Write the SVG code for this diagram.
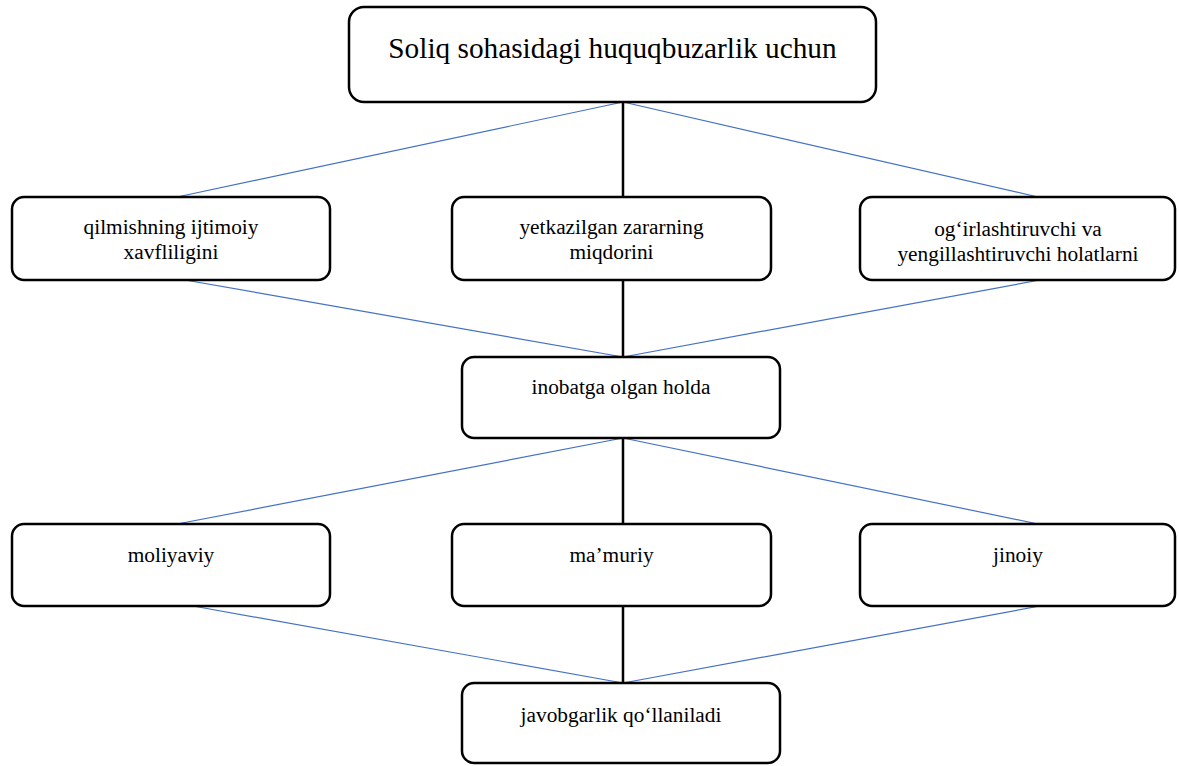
<svg xmlns="http://www.w3.org/2000/svg" width="1179" height="766" viewBox="0 0 1179 766">
<style>
.box{fill:#fff;stroke:#000;stroke-width:2.5}
.t{font-family:'Liberation Serif','Tinos','DejaVu Serif','Times New Roman',serif;font-size:21.33px;fill:#000;text-anchor:middle}
.big{font-size:29.3px}
.b{stroke:#4472C4;stroke-width:1.2;fill:none}
.k{stroke:#000;stroke-width:2.5;fill:none}
</style>
<rect width="1179" height="766" fill="#fff"/>
<g id="connectors">
<line class="b" x1="623" y1="102" x2="177" y2="197"/>
<line class="b" x1="623" y1="102" x2="1038" y2="197"/>
<line class="k" x1="623" y1="102" x2="623" y2="197"/>
<line class="b" x1="185" y1="280" x2="623" y2="357"/>
<line class="b" x1="1040" y1="280" x2="623" y2="357"/>
<line class="k" x1="623" y1="280" x2="623" y2="357"/>
<line class="b" x1="623" y1="438" x2="177" y2="524"/>
<line class="b" x1="623" y1="438" x2="1038" y2="524"/>
<line class="k" x1="623" y1="438" x2="623" y2="524"/>
<line class="b" x1="193" y1="606" x2="623" y2="683"/>
<line class="b" x1="1040" y1="606" x2="623" y2="683"/>
<line class="k" x1="623" y1="606" x2="623" y2="683"/>
</g>
<g id="top">
<rect class="box" x="349" y="7" width="527" height="95" rx="15"/>
<text class="t big" x="612.5" y="58" font-family="Liberation Serif, serif">Soliq sohasidagi huquqbuzarlik uchun</text>
</g>
<g id="n1">
<rect class="box" x="12" y="197" width="318" height="83" rx="12"/>
<text class="t" x="171" y="234">qilmishning ijtimoiy</text>
<text class="t" x="171" y="259">xavfliligini</text>
</g>
<g id="n2">
<rect class="box" x="452" y="197" width="319" height="83" rx="12"/>
<text class="t" x="611.5" y="234">yetkazilgan zararning</text>
<text class="t" x="611.5" y="259">miqdorini</text>
</g>
<g id="n3">
<rect class="box" x="860" y="197" width="315" height="83" rx="12"/>
<text class="t" x="1018" y="236">og‘irlashtiruvchi va</text>
<text class="t" x="1018" y="261">yengillashtiruvchi holatlarni</text>
</g>
<g id="n4">
<rect class="box" x="462" y="357" width="318" height="81" rx="12"/>
<text class="t" x="621" y="394">inobatga olgan holda</text>
</g>
<g id="n5">
<rect class="box" x="12" y="524" width="318" height="82" rx="12"/>
<text class="t" x="171" y="562">moliyaviy</text>
</g>
<g id="n6">
<rect class="box" x="452" y="524" width="319" height="82" rx="12"/>
<text class="t" x="611.5" y="562">ma’muriy</text>
</g>
<g id="n7">
<rect class="box" x="860" y="524" width="315" height="82" rx="12"/>
<text class="t" x="1018" y="562">jinoiy</text>
</g>
<g id="n8">
<rect class="box" x="462" y="683" width="318" height="80" rx="12"/>
<text class="t" x="621" y="722">javobgarlik qo‘llaniladi</text>
</g>
</svg>
